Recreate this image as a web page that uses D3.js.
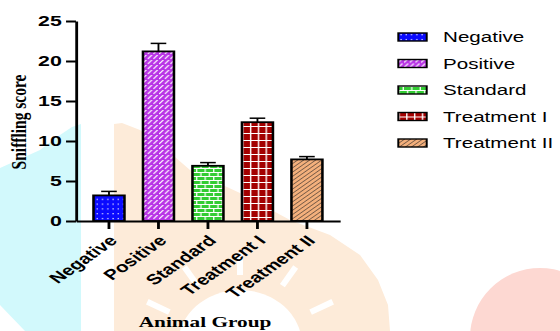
<!DOCTYPE html>
<html>
<head>
<meta charset="utf-8">
<script src="https://cdn.jsdelivr.net/npm/d3@7"></script>
<style>
  body { margin: 0; background: #fff; }
  svg { display: block; }
</style>
</head>
<body>
<svg id="chart" width="560" height="331"></svg>
<script>
// data
const groups = ["Negative", "Positive", "Standard", "Treatment I", "Treatment II"];
const means = [3.2, 21.2, 6.9, 12.35, 7.7];
const sems = [0.5, 1.0, 0.4, 0.5, 0.35];
const yTicks = [0, 5, 10, 15, 20, 25];
const fills = ["#0a0aff", "#b935e6", "#33cc33", "#a30000", "#f4b07c"];
const patternIds = ["pNeg", "pPos", "pStd", "pT1", "pT2"];

const W = 560, H = 331;
const sx = 1.42; // the picture is stretched sideways
const svg = d3.select("#chart");

// faint watermark behind the chart
const bg = svg.append("g");
bg.append("rect").attr("width", W).attr("height", H).attr("fill", "#fff");
bg.append("path")
  .attr("d", "M0,168 L40,150 L60,135 L72,127 L81,124 L81,331 L25,331 L0,305 Z")
  .attr("fill", "#d2f9fc");
bg.append("path")
  .attr("d", "M114,124 L122,123 L140,130 L175,157 L190,170 L240,193 L290,220 L330,235 L360,255 L378,280 L388,305 L390,331 L114,331 Z")
  .attr("fill", "#fdebd9");
bg.append("ellipse").attr("cx", 240).attr("cy", 345).attr("rx", 62).attr("ry", 55).attr("fill", "#fff");
[-62, -32, 0, 32, 62].forEach(a => {
  const r = a * Math.PI / 180;
  bg.append("line")
    .attr("x1", 240 + Math.sin(r) * 80).attr("y1", 345 - Math.cos(r) * 70)
    .attr("x2", 240 + Math.sin(r) * 105).attr("y2", 345 - Math.cos(r) * 92)
    .attr("stroke", "#fff").attr("stroke-width", 6);
});
bg.append("ellipse").attr("cx", 540).attr("cy", 338).attr("rx", 70).attr("ry", 70).attr("fill", "#fdd8d2");

// patterns
const defs = svg.append("defs");
let p = defs.append("pattern").attr("id", "pNeg").attr("patternUnits", "userSpaceOnUse").attr("width", 3.7).attr("height", 4.8);
p.append("rect").attr("width", 3.7).attr("height", 4.8).attr("fill", fills[0]);
p.append("rect").attr("x", 1.5).attr("y", 2).attr("width", 0.9).attr("height", 1.1).attr("fill", "#fff");

p = defs.append("pattern").attr("id", "pPos").attr("patternUnits", "userSpaceOnUse").attr("width", 4).attr("height", 5);
p.append("rect").attr("width", 4).attr("height", 5).attr("fill", fills[1]);
p.append("path").attr("d", "M0,4 L3,0").attr("stroke", "#fff").attr("stroke-width", 1);

p = defs.append("pattern").attr("id", "pStd").attr("patternUnits", "userSpaceOnUse").attr("width", 6).attr("height", 8);
p.append("rect").attr("width", 6).attr("height", 8).attr("fill", fills[2]);
p.append("path").attr("d", "M0,0.5 H6 M0,4.5 H6 M0.5,0.5 V4.5 M3.5,4.5 V8.5").attr("stroke", "#fff").attr("stroke-width", 0.9);

p = defs.append("pattern").attr("id", "pT1").attr("patternUnits", "userSpaceOnUse").attr("width", 5.5).attr("height", 7);
p.append("rect").attr("width", 5.5).attr("height", 7).attr("fill", fills[3]);
p.append("path").attr("d", "M0,0.5 H5.5 M0.5,0 V7").attr("stroke", "#fff").attr("stroke-width", 1);

p = defs.append("pattern").attr("id", "pT2").attr("patternUnits", "userSpaceOnUse").attr("width", 3).attr("height", 3)
  .attr("patternTransform", "rotate(45)");
p.append("rect").attr("width", 3).attr("height", 3).attr("fill", fills[4]);
p.append("path").attr("d", "M0,0 V3").attr("stroke", "#222").attr("stroke-width", 0.9);

// chart drawn in unstretched units, then widened
const g = svg.append("g").attr("transform", `scale(${sx},1)`);
const x0 = 53.5, x1 = 239.4, yTop = 21, yBase = 221;

const x = d3.scaleBand().domain(groups).range([x0, x1]).paddingInner(0.374).paddingOuter(0.354);
const y = d3.scaleLinear().domain([0, 25]).range([yBase, yTop]);

// bars
g.selectAll("rect.bar")
  .data(groups)
  .join("rect")
  .attr("class", "bar")
  .attr("x", d => x(d))
  .attr("y", (d, i) => y(means[i]))
  .attr("width", x.bandwidth())
  .attr("height", (d, i) => y(0) - y(means[i]))
  .attr("fill", (d, i) => `url(#${patternIds[i]})`)
  .attr("stroke", "#000")
  .attr("stroke-width", 1.8);

// error bars (upper only)
const eb = g.selectAll("g.err").data(groups).join("g").attr("class", "err");
eb.append("line")
  .attr("x1", d => x(d) + x.bandwidth() / 2).attr("x2", d => x(d) + x.bandwidth() / 2)
  .attr("y1", (d, i) => y(means[i])).attr("y2", (d, i) => y(means[i] + sems[i]))
  .attr("stroke", "#000").attr("stroke-width", 1.3);
eb.append("line")
  .attr("x1", d => x(d) + x.bandwidth() / 2 - 5.5).attr("x2", d => x(d) + x.bandwidth() / 2 + 5.5)
  .attr("y1", (d, i) => y(means[i] + sems[i])).attr("y2", (d, i) => y(means[i] + sems[i]))
  .attr("stroke", "#000").attr("stroke-width", 1.5);

// y axis
const yAxis = g.append("g").attr("transform", `translate(${x0},0)`)
  .call(d3.axisLeft(y).tickValues(yTicks).tickSize(7).tickSizeOuter(0).tickPadding(3));
yAxis.select(".domain").attr("stroke-width", 2);
yAxis.selectAll(".tick line").attr("stroke-width", 2);
yAxis.selectAll("text")
  .attr("font-family", "'Liberation Sans', Arial, sans-serif")
  .attr("font-weight", "bold").attr("font-size", 15).attr("fill", "#000");

// x axis
const xAxis = g.append("g").attr("transform", `translate(0,${yBase})`)
  .call(d3.axisBottom(x).tickSize(8).tickSizeOuter(0));
xAxis.select(".domain").attr("stroke-width", 2);
xAxis.selectAll(".tick line").attr("stroke-width", 2);
xAxis.selectAll("text")
  .attr("x", 0).attr("y", 0).attr("dy", "0.35em")
  .attr("text-anchor", "end")
  .attr("transform", "translate(3,17) rotate(-45)")
  .attr("font-family", "'Liberation Sans', Arial, sans-serif")
  .attr("font-weight", "bold").attr("font-size", 14.5).attr("fill", "#000");

// axis titles
g.append("text")
  .attr("transform", "translate(13,122) rotate(-90)")
  .attr("text-anchor", "middle").attr("dy", "0.35em")
  .attr("font-family", "'Liberation Serif', 'Times New Roman', serif")
  .attr("font-weight", "bold").attr("font-size", 15.5)
  .text("Sniffling score");
g.append("text")
  .attr("x", 144.4).attr("y", 327)
  .attr("text-anchor", "middle")
  .attr("font-family", "'Liberation Serif', 'Times New Roman', serif")
  .attr("font-weight", "bold").attr("font-size", 15)
  .text("Animal Group");

// legend
const legY = d3.scalePoint().domain(groups).range([37, 143]);
const leg = g.selectAll("g.leg").data(groups).join("g").attr("class", "leg")
  .attr("transform", d => `translate(280.5,${legY(d)})`);
leg.append("rect")
  .attr("x", 0).attr("y", -4).attr("width", 20).attr("height", 8)
  .attr("fill", (d, i) => `url(#${patternIds[i]})`)
  .attr("stroke", "#000").attr("stroke-width", 1.4);
leg.append("text")
  .attr("x", 31.5).attr("dy", "0.36em")
  .attr("font-family", "'Liberation Sans', Arial, sans-serif")
  .attr("font-size", 14.5).attr("fill", "#000")
  .text(d => d);
</script>
</body>
</html>
